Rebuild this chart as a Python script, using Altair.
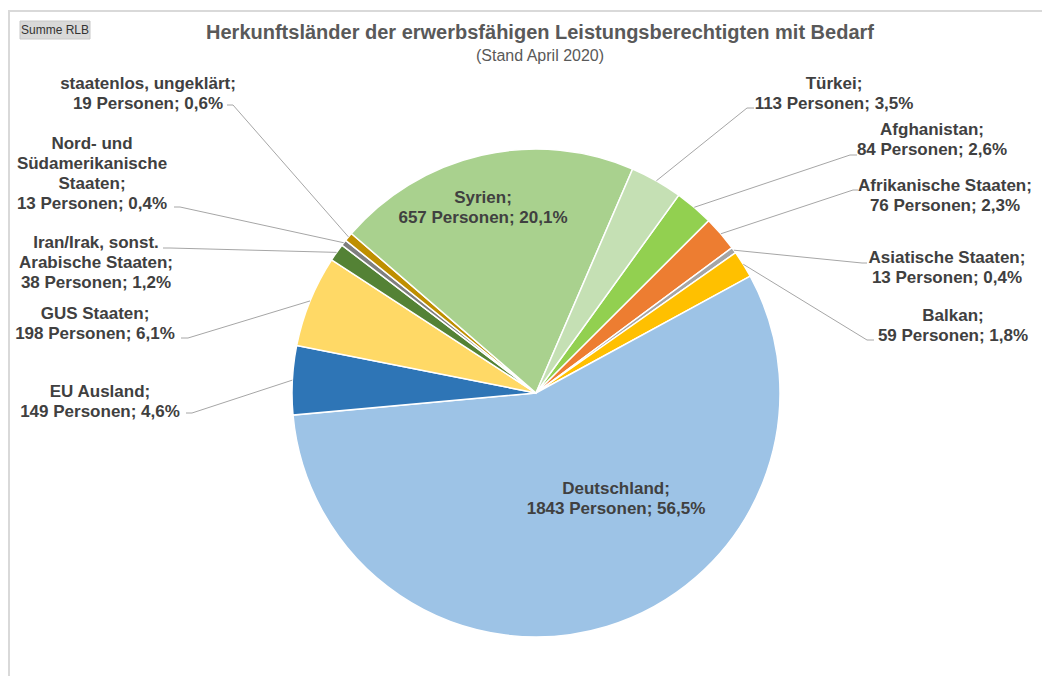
import math
import altair as alt
import pandas as pd

# ---------------- data ----------------
names = ["Afghanistan", "Afrikanische Staaten", "Asiatische Staaten", "Balkan",
         "Deutschland", "EU Ausland", "GUS Staaten",
         "Iran/Irak, sonst. Arabische Staaten",
         "Nord- und Südamerikanische Staaten", "staatenlos, ungeklärt",
         "Syrien", "Türkei"]
values = [84, 76, 13, 59, 1843, 149, 198, 38, 13, 19, 657, 113]
label_heads = ["Afghanistan;", "Afrikanische Staaten;", "Asiatische Staaten;", "Balkan;",
               "Deutschland;", "EU Ausland;", "GUS Staaten;",
               "Iran/Irak, sonst.\nArabische Staaten;",
               "Nord- und\nSüdamerikanische\nStaaten;", "staatenlos, ungeklärt;",
               "Syrien;", "Türkei;"]
colors = ["#92D050", "#ED7D31", "#A5A5A5", "#FFC000",
          "#9DC3E6", "#2E75B6", "#FFD966", "#548235",
          "#7F7F7F", "#BF8F00", "#A9D18E", "#C5E0B4"]

title_text = "Herkunftsländer der erwerbsfähigen Leistungsberechtigten mit Bedarf"
subtitle_text = "(Stand April 2020)"

# ---------------- layout (page pixels) ----------------
W, H = 1034, 668
OFF = 8
CX, CY, R = 536, 393, 244
START_DEG = 35.8
# label: (center x, first-line center y, elbow x, elbow y, end x, end y) ; None elbow = inside label
layout = {
    "Afghanistan": (932, 129, 850, 155, 857, 155),
    "Afrikanische Staaten": (945, 185, 853, 190, 858, 190),
    "Asiatische Staaten": (947, 257, 862, 263, 867, 263),
    "Balkan": (953, 315, 867, 340, 874, 340),
    "Deutschland": (616, 488, None, None, None, None),
    "EU Ausland": (100, 391, 192, 413, 186, 413),
    "GUS Staaten": (95, 313, 188, 338, 181, 338),
    "Iran/Irak, sonst. Arabische Staaten": (96, 242, 170, 248, 163, 248),
    "Nord- und Südamerikanische Staaten": (92, 143, 180, 207, 174, 207),
    "staatenlos, ungeklärt": (148, 83, 233, 105, 227, 105),
    "Syrien": (483, 197, None, None, None, None),
    "Türkei": (834, 83, 747, 108, 754, 108),
}

total = sum(values)

def pct(v):
    return f"{v / total * 100:.1f}".replace(".", ",")

pie_df = pd.DataFrame({"name": names, "value": values, "idx": list(range(len(names)))})

lab_rows, lead_rows = [], []
cum = 0
for i, (n, v, head) in enumerate(zip(names, values, label_heads)):
    mid = math.radians(START_DEG + (cum + v / 2) / total * 360)
    cum += v
    lx, ly, ex, ey, fx, fy = layout[n]
    lab_rows.append({"name": n, "x": lx - OFF, "y": ly - OFF + 6,
                     "text": f"{head}\n{v} Personen; {pct(v)}%"})
    if ex is not None:
        px = CX + R * math.sin(mid)
        py = CY - R * math.cos(mid)
        for s, (xx, yy) in enumerate([(px, py), (ex, ey), (fx, fy)]):
            lead_rows.append({"name": n, "seq": s, "x": xx - OFF, "y": yy - OFF})

lab_df = pd.DataFrame(lab_rows)
lead_df = pd.DataFrame(lead_rows)

FONT = "Liberation Sans"

frame = alt.Chart(pd.DataFrame({"a": [0]})).mark_rect(
    fill=None, stroke="#D9D9D9", strokeWidth=2
).encode(x=alt.value(9 - OFF), x2=alt.value(1200), y=alt.value(11 - OFF), y2=alt.value(900))

button = alt.Chart(pd.DataFrame({"a": [0]})).mark_rect(
    fill="#D9D9D9", stroke="#C8C8C8", strokeWidth=1
).encode(x=alt.value(20 - OFF), x2=alt.value(90 - OFF), y=alt.value(21 - OFF), y2=alt.value(39 - OFF))

button_text = alt.Chart(pd.DataFrame({"t": ["Summe RLB"]})).mark_text(
    font="Liberation Sans Narrow, Liberation Sans", fontSize=12, color="#333333",
    align="center", baseline="middle"
).encode(x=alt.value(55 - OFF), y=alt.value(30 - OFF), text="t:N")

title = alt.Chart(pd.DataFrame({"t": [title_text]})).mark_text(
    font=FONT, fontSize=20, fontWeight="bold", color="#595959", align="center", baseline="middle"
).encode(x=alt.value(540 - OFF), y=alt.value(33 - OFF), text="t:N")

subtitle = alt.Chart(pd.DataFrame({"t": [subtitle_text]})).mark_text(
    font=FONT, fontSize=16, color="#595959", align="center", baseline="middle"
).encode(x=alt.value(540 - OFF), y=alt.value(56 - OFF), text="t:N")

pie = alt.Chart(pie_df).mark_arc(radius=R, stroke="white", strokeWidth=1.5).encode(
    theta=alt.Theta("value:Q", stack=True,
                    scale=alt.Scale(range=[math.radians(START_DEG), math.radians(START_DEG) + 2 * math.pi])),
    order=alt.Order("idx:Q"),
    color=alt.Color("name:N", scale=alt.Scale(domain=names, range=colors), legend=None),
    x=alt.value(CX - OFF),
    y=alt.value(CY - OFF),
)

leaders = alt.Chart(lead_df).mark_line(color="#A6A6A6", strokeWidth=1).encode(
    x=alt.X("x:Q", scale=None, axis=None),
    y=alt.Y("y:Q", scale=None, axis=None),
    detail="name:N",
    order="seq:Q",
)

labels = alt.Chart(lab_df).mark_text(
    font=FONT, fontSize=17, fontWeight="bold", color="#404040",
    align="center", baseline="alphabetic", lineBreak="\n", lineHeight=20
).encode(
    x=alt.X("x:Q", scale=None, axis=None),
    y=alt.Y("y:Q", scale=None, axis=None),
    text="text:N",
)

chart = alt.layer(frame, button, button_text, title, subtitle, pie, leaders, labels).properties(
    width=W, height=H, autosize=alt.AutoSizeParams(type="none"), padding=0
).configure_view(stroke=None)

chart.save("out.html", embed_options={"renderer": "svg", "actions": False})
